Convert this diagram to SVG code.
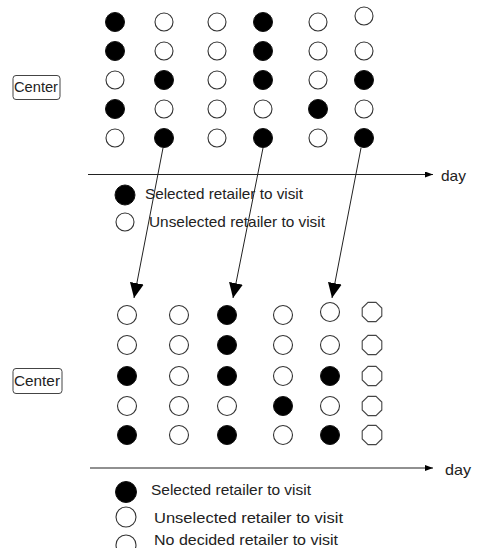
<svg xmlns="http://www.w3.org/2000/svg" xmlns:xlink="http://www.w3.org/1999/xlink" width="477" height="548" viewBox="0 0 477 548">
<style>
  .f { fill: #000; stroke: #111; stroke-width: 1; }
  .o { fill: #fff; stroke: #333; stroke-width: 1.1; }
  .t { font-family: "Liberation Sans", Arial, sans-serif; font-size: 15px; fill: #222; }
  .c { font-family: "Liberation Sans", Arial, sans-serif; font-size: 14px; fill: #222; }
  .box { fill: #fff; stroke: #444; stroke-width: 1; }
  .ax { stroke: #222; stroke-width: 1.2; fill: none; }
  .ar { stroke: #222; stroke-width: 1; fill: none; }
</style>
<defs>
  <marker id="big" markerUnits="userSpaceOnUse" markerWidth="16" markerHeight="16" viewBox="0 0 16 14" refX="15" refY="7" orient="auto">
    <path d="M0,0 L15,7 L0,14 Z" fill="#000"/>
  </marker>
  <marker id="small" markerUnits="userSpaceOnUse" markerWidth="8" markerHeight="6" viewBox="0 0 8 6" refX="8" refY="3" orient="auto">
    <path d="M0,0 L8,3 L0,6 Z" fill="#000"/>
  </marker>
  <polygon id="oct" points="9.8,4 4,9.6 -4,9.6 -9.8,4 -9.8,-4 -4,-9.6 4,-9.6 9.8,-4" fill="#fff" stroke="#444" stroke-width="1.1"/>
</defs>
<rect width="477" height="548" fill="#fff"/>

<!-- Top grid -->
<g id="top-grid">
  <g id="t11"><circle class="f" cx="115" cy="22" r="9.5"/></g>
  <g id="t12"><circle class="o" cx="164" cy="22" r="9"/></g>
  <g id="t13"><circle class="o" cx="217" cy="22" r="9"/></g>
  <g id="t14"><circle class="f" cx="263" cy="22" r="9.5"/></g>
  <g id="t15"><circle class="o" cx="318" cy="22" r="9"/></g>
  <g id="t16"><circle class="o" cx="364" cy="16" r="9"/></g>

  <g id="t21"><circle class="f" cx="115" cy="51" r="9.5"/></g>
  <g id="t22"><circle class="o" cx="164" cy="51" r="9"/></g>
  <g id="t23"><circle class="o" cx="217" cy="51" r="9"/></g>
  <g id="t24"><circle class="f" cx="263" cy="51" r="9.5"/></g>
  <g id="t25"><circle class="o" cx="318" cy="51" r="9"/></g>
  <g id="t26"><circle class="o" cx="364" cy="51" r="9"/></g>

  <g id="t31"><circle class="o" cx="115" cy="80" r="9"/></g>
  <g id="t32"><circle class="f" cx="164" cy="80" r="9.5"/></g>
  <g id="t33"><circle class="o" cx="217" cy="80" r="9"/></g>
  <g id="t34"><circle class="f" cx="263" cy="80" r="9.5"/></g>
  <g id="t35"><circle class="o" cx="318" cy="80" r="9"/></g>
  <g id="t36"><circle class="f" cx="364" cy="80" r="9.5"/></g>

  <g id="t41"><circle class="f" cx="115" cy="109" r="9.5"/></g>
  <g id="t42"><circle class="o" cx="164" cy="109" r="9"/></g>
  <g id="t43"><circle class="o" cx="217" cy="109" r="9"/></g>
  <g id="t44"><circle class="o" cx="263" cy="109" r="9"/></g>
  <g id="t45"><circle class="f" cx="318" cy="109" r="9.5"/></g>
  <g id="t46"><circle class="o" cx="364" cy="109" r="9"/></g>

  <g id="t51"><circle class="o" cx="115" cy="138" r="9"/></g>
  <g id="t52"><circle class="f" cx="164" cy="138" r="9.5"/></g>
  <g id="t53"><circle class="o" cx="217" cy="138" r="9"/></g>
  <g id="t54"><circle class="f" cx="263" cy="138" r="9.5"/></g>
  <g id="t55"><circle class="o" cx="318" cy="138" r="9"/></g>
  <g id="t56"><circle class="f" cx="364" cy="138" r="9.5"/></g>
</g>

<g id="center-top">
  <rect class="box" x="13" y="75.5" width="47" height="24" rx="3"/>
  <text class="c" x="14" y="92" textLength="44" lengthAdjust="spacingAndGlyphs">Center</text>
</g>

<!-- Bottom grid -->
<g id="bottom-grid">
  <g id="b11"><circle class="o" cx="127" cy="315" r="9.5"/></g>
  <g id="b12"><circle class="o" cx="179" cy="315" r="9.5"/></g>
  <g id="b13"><circle class="f" cx="227" cy="315" r="9.5"/></g>
  <g id="b14"><circle class="o" cx="283" cy="315" r="9.5"/></g>
  <g id="b15"><circle class="o" cx="330" cy="312" r="9.5"/></g>
  <g id="b16"><use xlink:href="#oct" x="372" y="312"/></g>

  <g id="b21"><circle class="o" cx="127" cy="345" r="9.5"/></g>
  <g id="b22"><circle class="o" cx="179" cy="345" r="9.5"/></g>
  <g id="b23"><circle class="f" cx="227" cy="345" r="9.5"/></g>
  <g id="b24"><circle class="o" cx="283" cy="345" r="9.5"/></g>
  <g id="b25"><circle class="o" cx="330" cy="345" r="9.5"/></g>
  <g id="b26"><use xlink:href="#oct" x="372" y="345"/></g>

  <g id="b31"><circle class="f" cx="127" cy="376" r="9.5"/></g>
  <g id="b32"><circle class="o" cx="179" cy="376" r="9.5"/></g>
  <g id="b33"><circle class="f" cx="227" cy="376" r="9.5"/></g>
  <g id="b34"><circle class="o" cx="283" cy="376" r="9.5"/></g>
  <g id="b35"><circle class="f" cx="330" cy="376" r="9.5"/></g>
  <g id="b36"><use xlink:href="#oct" x="372" y="376"/></g>

  <g id="b41"><circle class="o" cx="127" cy="406" r="9.5"/></g>
  <g id="b42"><circle class="o" cx="179" cy="406" r="9.5"/></g>
  <g id="b43"><circle class="o" cx="227" cy="406" r="9.5"/></g>
  <g id="b44"><circle class="f" cx="283" cy="406" r="9.5"/></g>
  <g id="b45"><circle class="o" cx="330" cy="406" r="9.5"/></g>
  <g id="b46"><use xlink:href="#oct" x="372" y="406"/></g>

  <g id="b51"><circle class="f" cx="127" cy="435" r="9.5"/></g>
  <g id="b52"><circle class="o" cx="179" cy="435" r="9.5"/></g>
  <g id="b53"><circle class="f" cx="227" cy="435" r="9.5"/></g>
  <g id="b54"><circle class="o" cx="283" cy="435" r="9.5"/></g>
  <g id="b55"><circle class="f" cx="330" cy="435" r="9.5"/></g>
  <g id="b56"><use xlink:href="#oct" x="372" y="435"/></g>
</g>

<g id="center-bottom">
  <rect class="box" x="13" y="368.5" width="49" height="25" rx="3"/>
  <text class="c" x="14" y="386" textLength="46" lengthAdjust="spacingAndGlyphs">Center</text>
</g>

<!-- Axes -->
<g id="axes">
  <line class="ax" x1="88" y1="174.5" x2="433" y2="174.5" marker-end="url(#small)"/>
  <text class="t" x="441" y="181" textLength="25" lengthAdjust="spacingAndGlyphs">day</text>
  <line class="ax" x1="90" y1="468" x2="433" y2="468" marker-end="url(#small)"/>
  <text class="t" x="445" y="475" textLength="26" lengthAdjust="spacingAndGlyphs">day</text>
</g>

<!-- Connectors -->
<g id="connectors">
  <line class="ar" x1="163" y1="148" x2="134" y2="298" marker-end="url(#big)"/>
  <line class="ar" x1="263" y1="148" x2="233" y2="298" marker-end="url(#big)"/>
  <line class="ar" x1="361" y1="148" x2="332" y2="298" marker-end="url(#big)"/>
</g>

<!-- Legends -->
<g id="legend-top">
  <circle class="f" cx="125" cy="195" r="10"/>
  <text class="t" x="145" y="199" textLength="158" lengthAdjust="spacingAndGlyphs">Selected retailer to visit</text>
  <circle class="o" cx="125" cy="222" r="9"/>
  <text class="t" x="149" y="227" textLength="176" lengthAdjust="spacingAndGlyphs">Unselected retailer to visit</text>
</g>
<g id="legend-bottom">
  <circle class="f" cx="126" cy="492" r="10.5"/>
  <text class="t" x="151" y="495" textLength="160" lengthAdjust="spacingAndGlyphs">Selected retailer to visit</text>
  <circle class="o" cx="126" cy="517" r="10"/>
  <text class="t" x="154" y="523" textLength="189" lengthAdjust="spacingAndGlyphs">Unselected retailer to visit</text>
  <circle class="o" cx="126" cy="545" r="10"/>
  <text class="t" x="154" y="545" textLength="184" lengthAdjust="spacingAndGlyphs">No decided retailer to visit</text>
</g>
</svg>
